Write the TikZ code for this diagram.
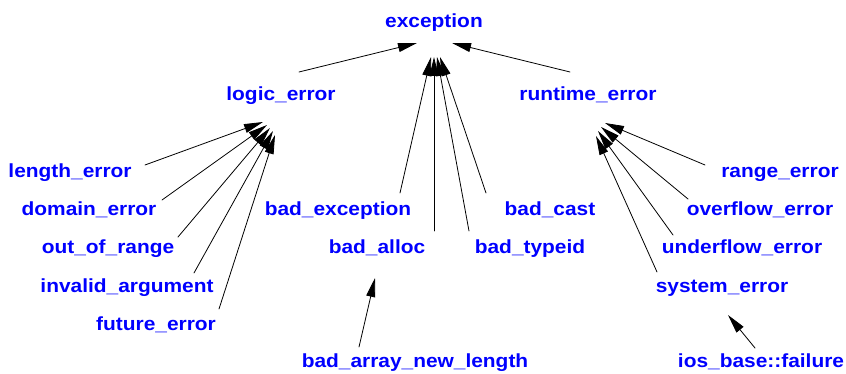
\documentclass[tikz,border=0pt]{standalone}
\usepackage{fontspec}
\setmainfont{Liberation Sans}[FakeStretch=1.1]
\usetikzlibrary{arrows.meta}
\definecolor{ink}{HTML}{000000}
\definecolor{cls}{HTML}{0000FF}

\begin{document}
\begin{tikzpicture}[x=1pt, y=1pt, line cap=round,
    every node/.style={text=cls, inner sep=0pt, anchor=base,
        font=\fontsize{19}{22}\selectfont\bfseries},
    isa/.style={-{Triangle[length=19pt, width=9pt]}, line width=0.8pt, ink}
]

% ---------------- canvas (846 x 374), white ----------------
\fill[white] (0,0) rectangle (846,374);
\useasboundingbox (0,0) rectangle (846,374);

% ---------------- class names ----------------
\node (exc)     at (434,346) {exception};
\node (logic)   at (281,273) {logic\_error};
\node (runtime) at (588,273) {runtime\_error};

% logic_error family
\node (length)  at (70,196)  {length\_error};
\node (domain)  at (89,158)  {domain\_error};
\node (outrng)  at (108,120) {out\_of\_range};
\node (invarg)  at (127,81)  {invalid\_argument};
\node (future)  at (156,43)  {future\_error};

% direct children of exception
\node (badexc)  at (338,158) {bad\_exception};
\node (badall)  at (377,120) {bad\_alloc};
\node (badcast) at (550,158) {bad\_cast};
\node (badtid)  at (530,120) {bad\_typeid};
\node (badarr)  at (415,6)   {bad\_array\_new\_length};

% runtime_error family
\node (range)   at (780,196) {range\_error};
\node (overfl)  at (760,158) {overflow\_error};
\node (underfl) at (742,120) {underflow\_error};
\node (syserr)  at (722,81)  {system\_error};
\node (iosfail) at (761,6)   {ios\_base::failure};

% ---------------- inheritance arrows, child -> parent ----------------
\draw[isa] ([shift={(18,29)}]logic.base)    -- ([shift={(-17,-15)}]exc.base);
\draw[isa] ([shift={(-18,29)}]runtime.base) -- ([shift={(18,-15)}]exc.base);

\draw[isa] ([shift={(62,23)}]badexc.base)   -- ([shift={(-3,-29)}]exc.base);
\draw[isa] ([shift={(57,23)}]badall.base)   -- ([shift={(0,-29)}]exc.base);
\draw[isa] ([shift={(-61,23)}]badtid.base)  -- ([shift={(3,-29)}]exc.base);
\draw[isa] ([shift={(-64,23)}]badcast.base) -- ([shift={(6,-29)}]exc.base);

\draw[isa] ([shift={(75,13)}]length.base)   -- ([shift={(-18,-21)}]logic.base);
\draw[isa] ([shift={(73,16)}]domain.base)   -- ([shift={(-14,-24)}]logic.base);
\draw[isa] ([shift={(70,17)}]outrng.base)   -- ([shift={(-11,-27)}]logic.base);
\draw[isa] ([shift={(67,20)}]invarg.base)   -- ([shift={(-8,-30)}]logic.base);
\draw[isa] ([shift={(63,22)}]future.base)   -- ([shift={(-6,-34)}]logic.base);

\draw[isa] ([shift={(-75,13)}]range.base)   -- ([shift={(17,-22)}]runtime.base);
\draw[isa] ([shift={(-72,17)}]overfl.base)  -- ([shift={(13,-26)}]runtime.base);
\draw[isa] ([shift={(-69,19)}]underfl.base) -- ([shift={(10,-30)}]runtime.base);
\draw[isa] ([shift={(-65,21)}]syserr.base)  -- ([shift={(8,-35)}]runtime.base);

\draw[isa] ([shift={(-56,21)}]badarr.base)  -- ([shift={(-2,-24)}]badall.base);
\draw[isa] ([shift={(-6,20)}]iosfail.base)  -- ([shift={(6,-22)}]syserr.base);

\end{tikzpicture}
\end{document}
